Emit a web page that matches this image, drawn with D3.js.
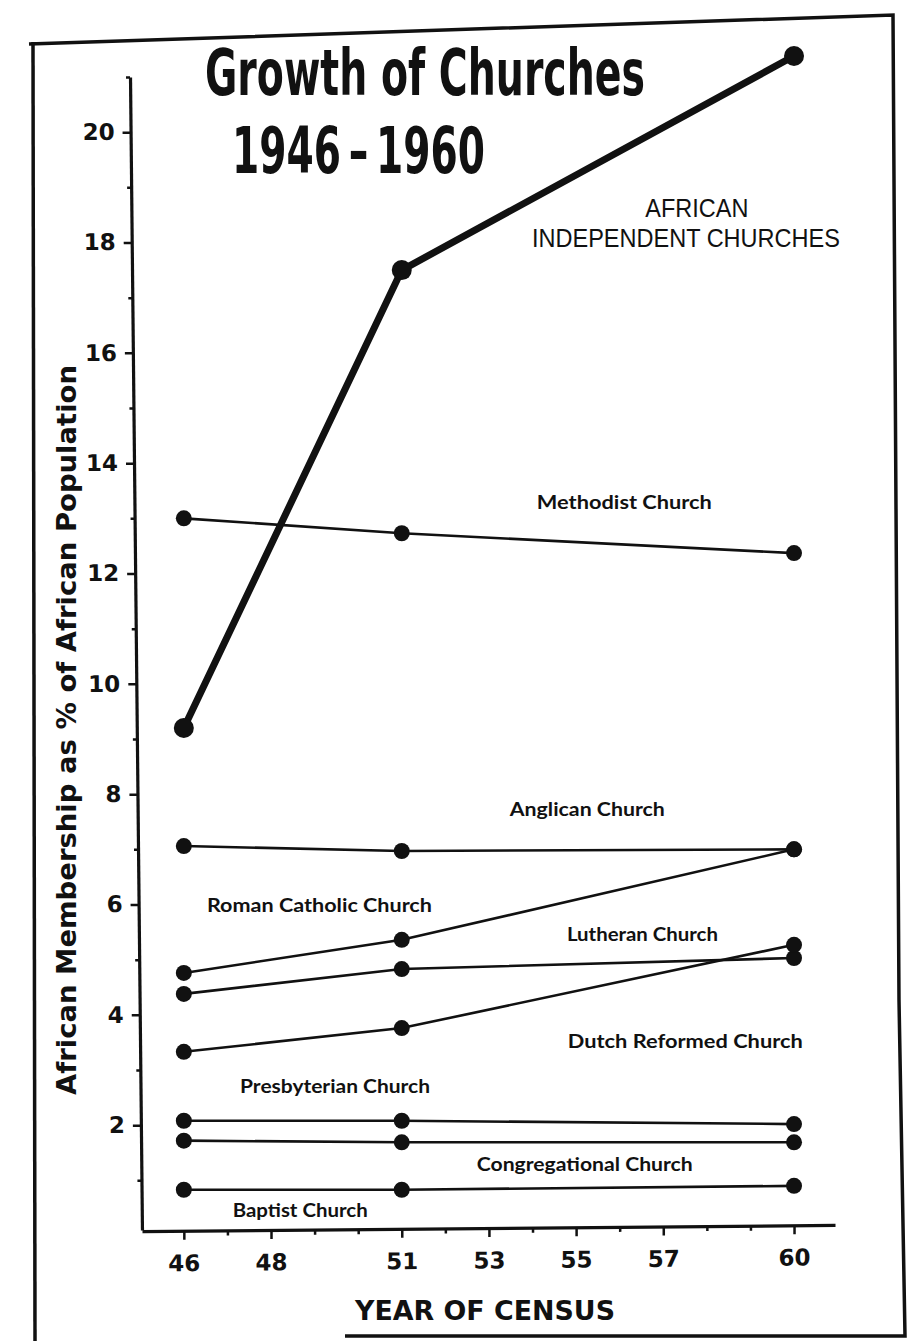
<!DOCTYPE html>
<html>
<head>
<meta charset="utf-8">
<script src="https://cdn.jsdelivr.net/npm/d3@7"></script>
<style>
  html, body { margin: 0; padding: 0; background: #fff; }
  svg { display: block; }
</style>
</head>
<body>
<div id="chart"></div>
<script>
// ---- data ----
const years = [46, 51, 60];
const seriesNames = ["AFRICAN INDEPENDENT CHURCHES", "Methodist Church", "Anglican Church", "Roman Catholic Church",
  "Lutheran Church", "Dutch Reformed Church", "Presbyterian Church", "Congregational Church", "Baptist Church"];
const africanIndependent = [9.2, 17.5, 21.38];
const methodist = [13.0, 12.73, 12.37];
const anglican = [7.06, 6.97, 7.0];
const romanCatholic = [4.76, 5.36, 7.0];
const lutheran = [4.38, 4.83, 5.03];
const dutchReformed = [3.33, 3.76, 5.27];
const presbyterian = [2.08, 2.08, 2.02];
const congregational = [1.72, 1.69, 1.69];
const baptist = [0.83, 0.83, 0.9];
const yMajorTicks = [2, 4, 6, 8, 10, 12, 14, 16, 18, 20];
const yMinorTicks = [1, 3, 5, 7, 9, 11, 13, 15, 17, 19, 21];
const xMajorTicks = [46, 48, 51, 53, 55, 57, 60];
const xMinorTicks = [47, 49, 50, 52, 54, 56, 58, 59];
// label anchor points in data units: [year, value]
const labelPos = [
  [54.1, 13.17], [53.48, 7.6], [46.53, 5.86], [54.79, 5.34], [54.81, 3.4],
  [47.29, 2.58], [52.72, 1.17], [47.12, 0.34]
];

const W = 910, H = 1341;
const svg = d3.select("#chart").append("svg").attr("width", W).attr("height", H);
const ink = "#111";

// frame (scanned border)
svg.append("path")
  .attr("d", "M29,44 L893,15 L899,1000 L905,1336 L345,1336")
  .attr("fill", "none").attr("stroke", ink).attr("stroke-width", 3.5);
svg.append("line").attr("x1", 33).attr("y1", 42).attr("x2", 35).attr("y2", 1341)
  .attr("stroke", ink).attr("stroke-width", 3.5);

// scales
const x = d3.scaleLinear().domain([45.04, 60.94]).range([142, 835]);
const y = d3.scaleLinear().domain([0.1, 21]).range([1230, 77]);

const tickFont = g => g.selectAll(".tick text").attr("fill", ink)
  .style("font-family", "'DejaVu Sans', sans-serif").style("font-weight", "bold").style("font-size", "23px");

// y axis (slightly skewed like the scanned original)
const yAxisG = svg.append("g").attr("transform", "translate(129.2,0) skewX(0.595)");
yAxisG.call(d3.axisLeft(y).tickValues(yMajorTicks).tickSize(8).tickSizeOuter(0).tickPadding(8).tickFormat(d3.format("d")));
yAxisG.select(".domain").attr("stroke", ink).attr("stroke-width", 3.2);
yAxisG.selectAll(".tick line").attr("stroke", ink).attr("stroke-width", 2.5);
tickFont(yAxisG);
const yMinorG = svg.append("g").attr("transform", "translate(129.2,0) skewX(0.595)");
yMinorG.call(d3.axisLeft(y).tickValues(yMinorTicks).tickSize(4).tickSizeOuter(0).tickFormat(""));
yMinorG.select(".domain").remove();
yMinorG.selectAll(".tick line").attr("stroke", ink).attr("stroke-width", 2.5);

// x axis (slightly tilted)
const xAxisG = svg.append("g").attr("transform", "translate(0,1232.5) skewY(-0.52)");
xAxisG.call(d3.axisBottom(x).tickValues(xMajorTicks).tickSize(9).tickSizeOuter(0).tickPadding(15).tickFormat(d3.format("d")));
xAxisG.select(".domain").attr("stroke", ink).attr("stroke-width", 3.2);
xAxisG.selectAll(".tick line").attr("stroke", ink).attr("stroke-width", 2.5);
tickFont(xAxisG);
const xMinorG = svg.append("g").attr("transform", "translate(0,1232.5) skewY(-0.52)");
xMinorG.call(d3.axisBottom(x).tickValues(xMinorTicks).tickSize(5).tickSizeOuter(0).tickFormat(""));
xMinorG.select(".domain").remove();
xMinorG.selectAll(".tick line").attr("stroke", ink).attr("stroke-width", 2.5);

// series
const thinSeries = [methodist, anglican, romanCatholic, lutheran, dutchReformed, presbyterian, congregational, baptist];
const line = d3.line().x((d, i) => x(years[i])).y(d => y(d));

thinSeries.forEach(vals => {
  svg.append("path").datum(vals).attr("d", line)
    .attr("fill", "none").attr("stroke", ink).attr("stroke-width", 2.6);
  svg.selectAll(null).data(vals).enter().append("circle")
    .attr("cx", (d, i) => x(years[i])).attr("cy", d => y(d)).attr("r", 8).attr("fill", ink);
});

svg.append("path").datum(africanIndependent).attr("d", line)
  .attr("fill", "none").attr("stroke", ink).attr("stroke-width", 7).attr("stroke-linejoin", "round");
svg.selectAll(null).data(africanIndependent).enter().append("circle")
  .attr("cx", (d, i) => x(years[i])).attr("cy", d => y(d)).attr("r", 10).attr("fill", ink);

// series labels
const labelWidths = [175, 155, 225, 151, 235, 190, 216, 135];
seriesNames.slice(1).forEach((name, i) => {
  svg.append("text")
    .attr("x", x(labelPos[i][0])).attr("y", y(labelPos[i][1]))
    .attr("textLength", labelWidths[i]).attr("lengthAdjust", "spacingAndGlyphs")
    .attr("fill", ink)
    .style("font-family", "'Lato', 'DejaVu Sans', sans-serif").style("font-weight", "bold").style("font-size", "18px")
    .text(name);
});
svg.append("text").attr("x", x(57.77)).attr("y", y(18.46)).attr("text-anchor", "middle")
  .attr("textLength", 103).attr("lengthAdjust", "spacingAndGlyphs").attr("fill", ink)
  .style("font-family", "'Liberation Sans', sans-serif").style("font-size", "25px").text("AFRICAN");
svg.append("text").attr("x", x(57.52)).attr("y", y(17.92)).attr("text-anchor", "middle")
  .attr("textLength", 308).attr("lengthAdjust", "spacingAndGlyphs").attr("fill", ink)
  .style("font-family", "'Liberation Sans', sans-serif").style("font-size", "25px").text("INDEPENDENT CHURCHES");

// title
svg.append("text").attr("x", 205).attr("y", 95)
  .attr("textLength", 440).attr("lengthAdjust", "spacingAndGlyphs").attr("fill", ink)
  .style("font-family", "'Liberation Sans Narrow', 'DejaVu Sans Condensed', sans-serif").style("font-weight", "bold").style("font-size", "64px")
  .text("Growth of Churches");
svg.append("text").attr("x", 232).attr("y", 173)
  .attr("textLength", 253).attr("lengthAdjust", "spacingAndGlyphs").attr("fill", ink)
  .style("font-family", "'Liberation Sans Narrow', 'DejaVu Sans Condensed', sans-serif").style("font-weight", "bold").style("font-size", "64px")
  .text("1946\u2009\u2013\u20091960");

// axis titles
svg.append("text").attr("transform", "translate(76,730) rotate(-90)").attr("text-anchor", "middle")
  .attr("textLength", 730).attr("lengthAdjust", "spacingAndGlyphs").attr("fill", ink)
  .style("font-family", "'DejaVu Sans', sans-serif").style("font-weight", "bold").style("font-size", "26px")
  .text("African Membership as % of African Population");
svg.append("text").attr("x", 485).attr("y", 1320).attr("text-anchor", "middle")
  .attr("textLength", 260).attr("lengthAdjust", "spacingAndGlyphs").attr("fill", ink)
  .style("font-family", "'DejaVu Sans', sans-serif").style("font-weight", "bold").style("font-size", "26px")
  .text("YEAR OF CENSUS");
</script>
</body>
</html>
